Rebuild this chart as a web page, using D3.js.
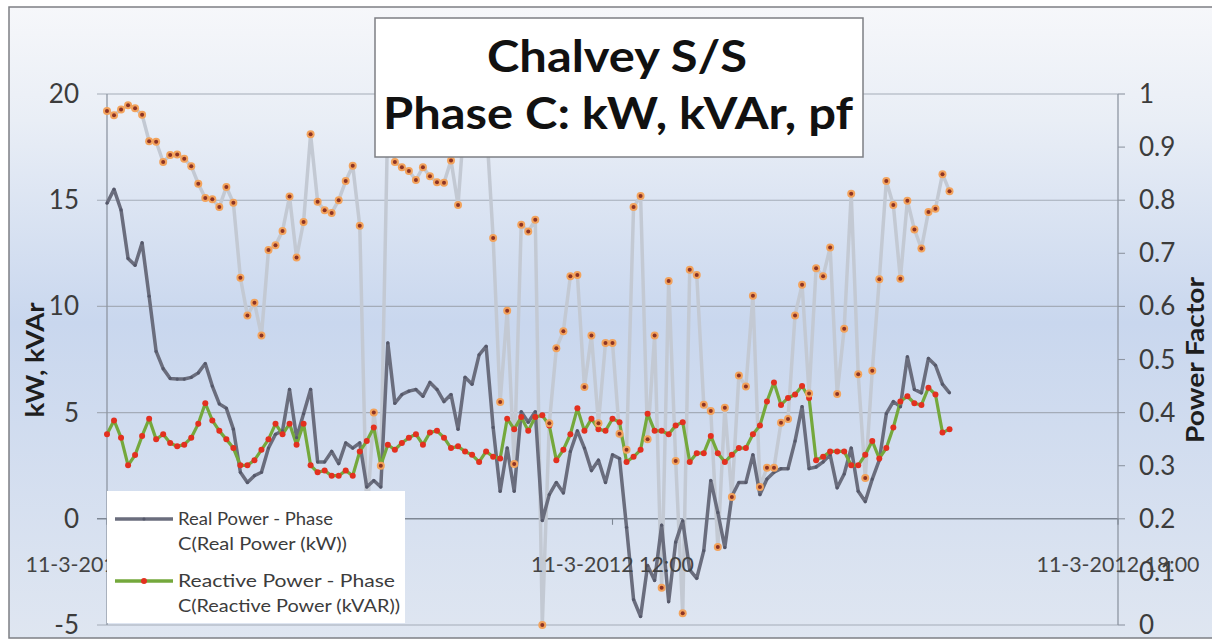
<!DOCTYPE html>
<html>
<head>
<meta charset="utf-8">
<script src="https://cdn.jsdelivr.net/npm/d3@7"></script>
<style>
  html, body { margin: 0; padding: 0; background: #fff; }
  svg { display: block; font-family: Lato, "Open Sans", sans-serif; }
</style>
</head>
<body>
<div id="chart"></div>
<script>
// ------------------------------------------------------
// DATA — 5-minute readings from 06:00, 11-3-2012
// ------------------------------------------------------
const stepMinutes = 5;

const realPower = [
  14.86, 15.51, 14.54, 12.26, 11.94, 12.99, 10.48, 7.88, 7.07, 6.61,
  6.58, 6.58, 6.66, 6.87, 7.31, 6.25, 5.41, 5.20, 4.22, 2.19,
  1.71, 2.03, 2.19, 3.33, 3.98, 4.14, 6.09, 3.82, 4.95, 6.09,
  2.68, 2.68, 3.17, 2.60, 3.57, 3.33, 3.57, 1.5, 1.8, 1.5,
  8.28, 5.44, 5.85, 6.01, 6.09, 5.77, 6.42, 6.09, 5.52, 5.85,
  4.22, 6.66, 6.34, 7.72, 8.12, 4.3, 1.30, 3.33, 1.30, 5.04,
  4.55, 5.04, -0.08, 1.14, 1.71, 1.22, 3.17, 4.14, 3.33, 2.27,
  2.76, 1.71, 3.01, 2.84, -0.40, -3.8, -4.6, -2.2, -2.9, -0.3,
  -3.9, -1.1, -0.1, -2.4, -2.8, -1.5, 1.8, 0.3, -1.35, 1.06,
  1.71, 1.71, 3.01, 1.14, 1.87, 2.19, 2.36, 2.36, 3.66, 5.28,
  2.36, 2.44, 2.68, 3.01, 1.46, 2.11, 3.33, 1.30, 0.81, 1.87,
  2.76, 4.95, 5.52, 5.28, 7.63, 6.09, 5.93, 7.55, 7.23, 6.34,
  5.93
];

const reactivePower = [
  3.98, 4.63, 3.82, 2.52, 3.00, 3.90, 4.71, 3.74, 3.98, 3.57,
  3.41, 3.49, 3.82, 4.47, 5.44, 4.63, 4.14, 3.74, 3.33, 2.52,
  2.52, 2.76, 3.25, 3.74, 4.47, 3.98, 4.47, 3.49, 4.47, 2.52,
  2.19, 2.27, 2.03, 2.03, 2.27, 2.03, 3.17, 3.66, 4.30, 2.52,
  3.49, 3.25, 3.57, 3.82, 3.98, 3.49, 4.06, 4.14, 3.82, 3.33,
  3.41, 3.17, 3.01, 2.68, 3.17, 2.92, 2.84, 4.71, 4.22, 4.79,
  4.14, 4.79, 4.87, 4.39, 2.76, 3.25, 3.98, 5.20, 4.14, 4.71,
  4.22, 4.14, 4.71, 4.55, 2.68, 2.92, 3.25, 4.95, 4.14, 4.14,
  3.98, 4.39, 4.55, 2.68, 3.09, 3.09, 3.90, 3.09, 2.68, 3.01,
  3.33, 3.33, 3.98, 4.39, 5.52, 6.42, 5.36, 5.69, 5.85, 6.25,
  5.69, 2.76, 2.92, 3.17, 3.17, 3.17, 2.52, 2.52, 3.01, 3.66,
  2.84, 3.33, 4.30, 5.52, 5.77, 5.44, 5.36, 6.17, 5.85, 4.06,
  4.22
];

const powerFactor = [
  0.968, 0.960, 0.971, 0.979, 0.973, 0.961, 0.911, 0.910, 0.872, 0.885,
  0.886, 0.878, 0.864, 0.831, 0.804, 0.802, 0.787, 0.825, 0.795, 0.654,
  0.583, 0.607, 0.545, 0.706, 0.715, 0.742, 0.807, 0.692, 0.759, 0.924,
  0.797, 0.781, 0.776, 0.800, 0.836, 0.865, 0.752, 0.20, 0.40, 0.30,
  0.96, 0.872, 0.862, 0.855, 0.838, 0.862, 0.845, 0.834, 0.833, 0.875,
  0.791, 0.97, 0.98, 0.96, 0.95, 0.729, 0.420, 0.592, 0.303, 0.754,
  0.741, 0.763, 0.0, 0.38, 0.521, 0.553, 0.657, 0.659, 0.448, 0.545,
  0.38, 0.531, 0.531, 0.36, 0.33, 0.787, 0.808, 0.35, 0.545, 0.07,
  0.648, 0.309, 0.022, 0.669, 0.659, 0.415, 0.403, 0.147, 0.409, 0.241,
  0.470, 0.449, 0.620, 0.26, 0.296, 0.296, 0.381, 0.388, 0.583, 0.641,
  0.436, 0.672, 0.657, 0.711, 0.435, 0.558, 0.812, 0.472, 0.277, 0.479,
  0.651, 0.836, 0.791, 0.652, 0.799, 0.745, 0.709, 0.778, 0.784, 0.849,
  0.817
];

// x ticks: minutes after 06:00
const xTickMinutes = [0, 360, 720];
const xTickLabels = ["11-3-2012 06:00", "11-3-2012 12:00", "11-3-2012 18:00"];
const leftTicks = [-5, 0, 5, 10, 15, 20];
const rightTicks = [0, 0.1, 0.2, 0.3, 0.4, 0.5, 0.6, 0.7, 0.8, 0.9, 1];

const legendItems = [
  ["Real Power - Phase", "C(Real Power (kW))"],
  ["Reactive Power - Phase", "C(Reactive Power (kVAR))"]
];

// ------------------------------------------------------
// LAYOUT
// ------------------------------------------------------
const width = 1212, height = 641;
const plot = { left: 107, right: 1118, top: 94, bottom: 625 };

const svg = d3.select("#chart").append("svg")
  .attr("width", width)
  .attr("height", height);

const defs = svg.append("defs");
const grad = defs.append("linearGradient")
  .attr("id", "bg").attr("x1", 0).attr("y1", 0).attr("x2", 0).attr("y2", 1);
grad.append("stop").attr("offset", "0%").attr("stop-color", "#f6f7fa");
grad.append("stop").attr("offset", "18%").attr("stop-color", "#e9eef6");
grad.append("stop").attr("offset", "50%").attr("stop-color", "#c9d7ee");
grad.append("stop").attr("offset", "100%").attr("stop-color", "#dfe6f1");

// chart area background + frame
svg.append("rect")
  .attr("x", 9).attr("y", 7)
  .attr("width", width + 10).attr("height", 631)
  .attr("fill", "url(#bg)")
  .attr("stroke", "#7d7f84").attr("stroke-width", 1.5);

// scales
const x = d3.scaleLinear().domain([0, 720]).range([plot.left, plot.right]);
const yL = d3.scaleLinear().domain([-5, 20]).range([plot.bottom, plot.top]);
const yR = d3.scaleLinear().domain([0, 1]).range([plot.bottom, plot.top]);

const rows = realPower.map((v, i) => ({
  t: i * stepMinutes,
  kw: v,
  kvar: reactivePower[i],
  pf: powerFactor[i]
}));

// gridlines (left axis majors)
svg.append("g").selectAll("line")
  .data(leftTicks)
  .join("line")
  .attr("x1", plot.left - 10).attr("x2", plot.right)
  .attr("y1", d => yL(d)).attr("y2", d => yL(d))
  .attr("stroke", d => d === 0 ? "#7e8794" : "#a4acb8")
  .attr("stroke-width", d => d === 0 ? 1.6 : 1.1);

// right-axis ticks
svg.append("g").selectAll("line")
  .data(rightTicks)
  .join("line")
  .attr("x1", plot.right).attr("x2", plot.right + 7)
  .attr("y1", d => yR(d)).attr("y2", d => yR(d))
  .attr("stroke", "#8e96a2").attr("stroke-width", 1.1);

// vertical axis lines
svg.append("line")
  .attr("x1", plot.left).attr("x2", plot.left)
  .attr("y1", plot.top).attr("y2", plot.bottom)
  .attr("stroke", "#8e96a2").attr("stroke-width", 1.3);
svg.append("line")
  .attr("x1", plot.right).attr("x2", plot.right)
  .attr("y1", plot.top).attr("y2", plot.bottom)
  .attr("stroke", "#8e96a2").attr("stroke-width", 1.3);

// x-axis small ticks
svg.append("g").selectAll("line")
  .data(xTickMinutes)
  .join("line")
  .attr("x1", d => x(d)).attr("x2", d => x(d))
  .attr("y1", yL(0)).attr("y2", yL(0) + 6)
  .attr("stroke", "#7e8794").attr("stroke-width", 1.1);

// ------------------------------------------------------
// SERIES
// ------------------------------------------------------
const pfLine = d3.line().x(d => x(d.t)).y(d => yR(d.pf));
const kwLine = d3.line().x(d => x(d.t)).y(d => yL(d.kw));
const kvarLine = d3.line().x(d => x(d.t)).y(d => yL(d.kvar));

svg.append("path").datum(rows)
  .attr("d", pfLine)
  .attr("fill", "none").attr("stroke", "#c3c9d3")
  .attr("stroke-width", 3.5).attr("stroke-linejoin", "round");

svg.append("path").datum(rows)
  .attr("d", kwLine)
  .attr("fill", "none").attr("stroke", "#6a6d7d")
  .attr("stroke-width", 3.5).attr("stroke-linejoin", "round");

svg.append("path").datum(rows)
  .attr("d", kvarLine)
  .attr("fill", "none").attr("stroke", "#74a83c")
  .attr("stroke-width", 3.2).attr("stroke-linejoin", "round");

// markers
svg.append("g").selectAll("circle")
  .data(rows)
  .join("circle")
  .attr("cx", d => x(d.t)).attr("cy", d => yL(d.kw))
  .attr("r", 1.6).attr("fill", "#55586a");

svg.append("g").selectAll("circle")
  .data(rows)
  .join("circle")
  .attr("cx", d => x(d.t)).attr("cy", d => yL(d.kvar))
  .attr("r", 3).attr("fill", "#e3301f");

const pfDots = svg.append("g");
pfDots.selectAll("circle.halo")
  .data(rows)
  .join("circle")
  .attr("class", "halo")
  .attr("cx", d => x(d.t)).attr("cy", d => yR(d.pf))
  .attr("r", 4).attr("fill", "#f3a35c");
pfDots.selectAll("circle.core")
  .data(rows)
  .join("circle")
  .attr("class", "core")
  .attr("cx", d => x(d.t)).attr("cy", d => yR(d.pf))
  .attr("r", 2).attr("fill", "#8c3325");

// ------------------------------------------------------
// AXIS LABELS
// ------------------------------------------------------
const fit = (sel, len) => sel.attr("textLength", len).attr("lengthAdjust", "spacingAndGlyphs");

svg.append("g").selectAll("text")
  .data(leftTicks)
  .join("text")
  .attr("x", 79).attr("y", d => yL(d) + 9)
  .attr("text-anchor", "end")
  .attr("font-size", 26).attr("fill", "#3c3c3c")
  .text(d => d);

svg.append("g").selectAll("text")
  .data(rightTicks)
  .join("text")
  .attr("x", 1139).attr("y", d => yR(d) + 9)
  .attr("font-size", 26).attr("fill", "#3c3c3c")
  .text(d => d3.format("")(+d.toFixed(1)));

svg.append("g").selectAll("text")
  .data(xTickMinutes)
  .join("text")
  .attr("x", d => x(d)).attr("y", 572)
  .attr("text-anchor", "middle")
  .attr("font-size", 21).attr("fill", "#444")
  .text((d, i) => xTickLabels[i])
  .call(fit, 163);

// axis titles
svg.append("text")
  .attr("transform", "translate(44,360) rotate(-90)")
  .attr("text-anchor", "middle")
  .attr("font-size", 25).attr("font-weight", "bold").attr("fill", "#1e1e1e")
  .text("kW, kVAr")
  .call(fit, 115);

svg.append("text")
  .attr("transform", "translate(1204,360) rotate(-90)")
  .attr("text-anchor", "middle")
  .attr("font-size", 25).attr("font-weight", "bold").attr("fill", "#1e1e1e")
  .text("Power Factor")
  .call(fit, 166);

// ------------------------------------------------------
// LEGEND
// ------------------------------------------------------
const lg = svg.append("g");
lg.append("rect")
  .attr("x", 107).attr("y", 491)
  .attr("width", 298).attr("height", 132)
  .attr("fill", "#ffffff");

const legendY = [519, 581];
const legendColor = ["#6a6d7d", "#74a83c"];
const legendDot = ["#55586a", "#e3301f"];
const legendWidths = [[155, 169], [217, 222]];

legendItems.forEach((lines, i) => {
  lg.append("line")
    .attr("x1", 115).attr("x2", 173)
    .attr("y1", legendY[i]).attr("y2", legendY[i])
    .attr("stroke", legendColor[i]).attr("stroke-width", 3.5);
  lg.append("circle")
    .attr("cx", 144).attr("cy", legendY[i])
    .attr("r", i === 0 ? 1.6 : 3).attr("fill", legendDot[i]);
  lines.forEach((t, j) => {
    lg.append("text")
      .attr("x", 178).attr("y", legendY[i] + 6 + j * 25)
      .attr("font-size", 18).attr("fill", "#3c3c3c")
      .text(t)
      .call(fit, legendWidths[i][j]);
  });
});

// ------------------------------------------------------
// TITLE BOX
// ------------------------------------------------------
svg.append("rect")
  .attr("x", 375).attr("y", 18)
  .attr("width", 488).attr("height", 139)
  .attr("fill", "#ffffff")
  .attr("stroke", "#7d7f84").attr("stroke-width", 1.5);

svg.append("text")
  .attr("x", 617).attr("y", 72)
  .attr("text-anchor", "middle")
  .attr("font-size", 43).attr("font-weight", "bold").attr("fill", "#111")
  .text("Chalvey S/S")
  .call(fit, 260);

svg.append("text")
  .attr("x", 618).attr("y", 129)
  .attr("text-anchor", "middle")
  .attr("font-size", 43).attr("font-weight", "bold").attr("fill", "#111")
  .text("Phase C: kW, kVAr, pf")
  .call(fit, 470);
</script>
</body>
</html>
